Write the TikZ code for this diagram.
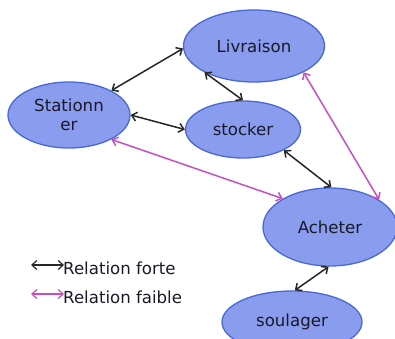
\documentclass[tikz,border=0pt]{standalone}
\usepackage{fontspec}
\setmainfont{DejaVu Sans}
\usetikzlibrary{shapes.geometric,arrows.meta}
\definecolor{efill}{RGB}{138,156,238}
\definecolor{eborder}{RGB}{72,104,212}
\definecolor{weak}{RGB}{196,80,196}
\definecolor{txt}{RGB}{25,25,40}
\tikzset{
  usecase/.style={ellipse,draw=eborder,fill=efill,line width=1.3pt,inner sep=0pt,font=\fontsize{16.6}{21}\selectfont,text=txt,align=center},
  strong/.style={line width=1.5pt,draw=black!85,{Straight Barb[length=5pt,width=9pt]}-{Straight Barb[length=5pt,width=9pt]}},
  weakrel/.style={line width=1.5pt,draw=weak,{Straight Barb[length=5pt,width=9pt]}-{Straight Barb[length=5pt,width=9pt]}},
  legtext/.style={anchor=west,inner sep=0pt,font=\fontsize{16.6}{20}\selectfont,text=txt}
}
\begin{document}
\begin{tikzpicture}[x=1pt,y=-1pt]
\useasboundingbox (0,0) rectangle (395,338);
\node[usecase,minimum width=141pt,minimum height=72pt] (liv) at (254,46) {Livraison};
\node[usecase,minimum width=122pt,minimum height=66pt] (stat) at (69,115) {\raisebox{-2pt}{Stationn}\\er};
\node[usecase,minimum width=115pt,minimum height=57pt] (sto) at (243,129.5) {stocker};
\node[usecase,minimum width=134pt,minimum height=78pt] (ach) at (330,227) {Acheter};
\node[usecase,minimum width=140pt,minimum height=62pt] (sou) at (292,322) {\raisebox{-2pt}{soulager}};

\draw[strong] (stat.30) -- (liv.182);
\draw[strong] (liv.208) -- (sto.90);
\draw[strong] (stat.0) -- (sto.180);
\draw[strong] (sto.333) -- (ach.88);
\draw[weakrel] (liv.332) -- (ach.29);
\draw[weakrel] (stat.330) -- (ach.149);
\draw[strong] (ach.268) -- (sou.85);

\coordinate (l1a) at (31,265);
\coordinate (l1b) at (64,265);
\coordinate (l2a) at (31,294);
\coordinate (l2b) at (64,294);
\draw[strong,line width=1.2pt] (l1a) -- (l1b);
\draw[weakrel,line width=1.2pt] (l2a) -- (l2b);
\node[legtext] (t1) at (63,268) {Relation forte};
\node[legtext] (t2) at (63,297) {Relation faible};
\end{tikzpicture}
\end{document}
